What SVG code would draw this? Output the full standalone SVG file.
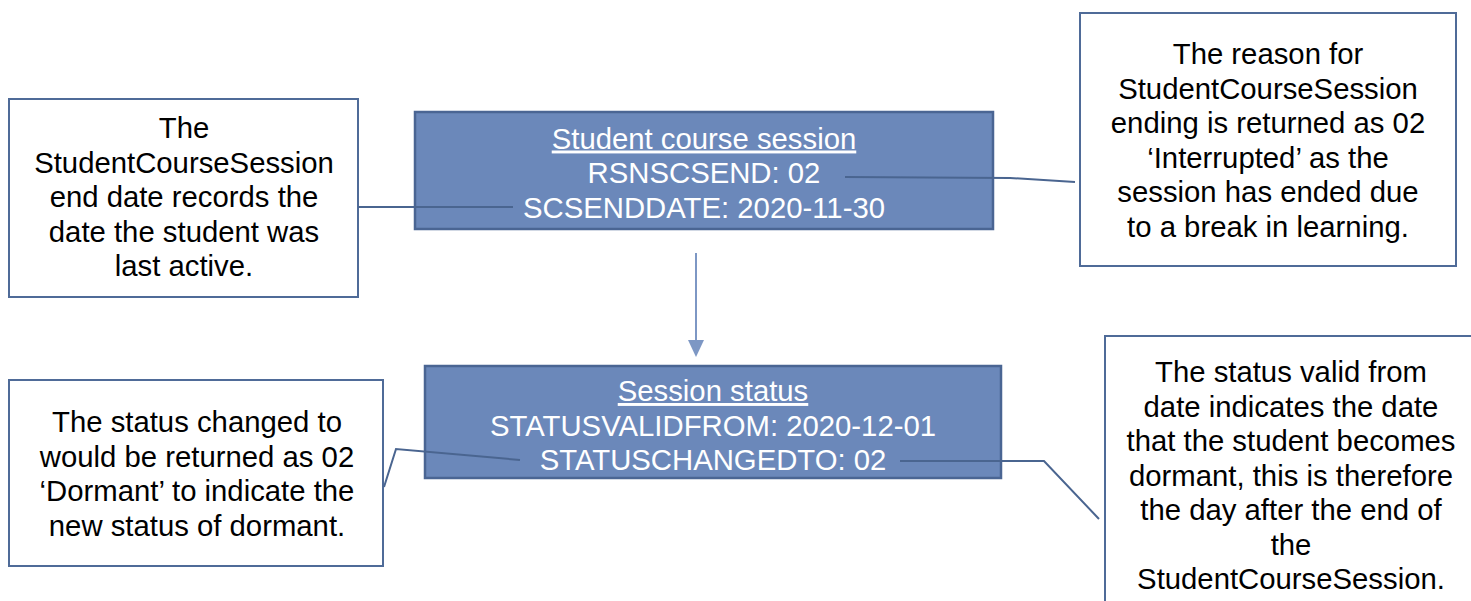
<svg xmlns="http://www.w3.org/2000/svg" width="1471" height="601" viewBox="0 0 1471 601">
<style>
.note{fill:#ffffff;stroke:#4F6B98;stroke-width:2}
.ent{fill:#6B88BA;stroke:#4A6593;stroke-width:2.5}
.t{font-family:"Liberation Sans",Arial,sans-serif;font-size:29.3px;text-anchor:middle;fill:#000000}
.w{font-family:"Liberation Sans",Arial,sans-serif;font-size:29.3px;text-anchor:middle;fill:#ffffff}
.c{fill:none;stroke:#4A6590;stroke-width:2}
</style>
<rect width="1471" height="601" fill="#ffffff"/>
<g id="note-enddate">
<rect class="note" x="9" y="99" width="349" height="198"/>
<text class="t" x="184" y="138">The</text>
<text class="t" x="184" y="172.5">StudentCourseSession</text>
<text class="t" x="184" y="207">end date records the</text>
<text class="t" x="184" y="241.5">date the student was</text>
<text class="t" x="184" y="276">last active.</text>
</g>
<g id="student-course-session">
<rect class="ent" x="415" y="112" width="578" height="117"/>
<text class="w" x="704" y="148.5" text-decoration="underline">Student course session</text>
<text class="w" x="704" y="183">RSNSCSEND: 02</text>
<text class="w" x="704" y="217.5">SCSENDDATE: 2020-11-30</text>
</g>
<g id="note-reason">
<rect class="note" x="1080" y="13" width="376" height="253"/>
<text class="t" x="1268" y="64">The reason for</text>
<text class="t" x="1268" y="98.5">StudentCourseSession</text>
<text class="t" x="1268" y="133">ending is returned as 02</text>
<text class="t" x="1268" y="167.5">‘Interrupted’ as the</text>
<text class="t" x="1268" y="202">session has ended due</text>
<text class="t" x="1268" y="236.5">to a break in learning.</text>
</g>
<g id="session-status">
<rect class="ent" x="425" y="366" width="576" height="112"/>
<text class="w" x="713" y="401" text-decoration="underline">Session status</text>
<text class="w" x="713" y="435.5">STATUSVALIDFROM: 2020-12-01</text>
<text class="w" x="713" y="470">STATUSCHANGEDTO: 02</text>
</g>
<g id="note-changedto">
<rect class="note" x="9" y="380" width="374" height="186"/>
<text class="t" x="197" y="432">The status changed to</text>
<text class="t" x="197" y="466.5">would be returned as 02</text>
<text class="t" x="197" y="501">‘Dormant’ to indicate the</text>
<text class="t" x="197" y="535.5">new status of dormant.</text>
</g>
<g id="note-validfrom">
<rect class="note" x="1105" y="336" width="380" height="290"/>
<text class="t" x="1291" y="382">The status valid from</text>
<text class="t" x="1291" y="416.5">date indicates the date</text>
<text class="t" x="1291" y="451">that the student becomes</text>
<text class="t" x="1291" y="485.5">dormant, this is therefore</text>
<text class="t" x="1291" y="520">the day after the end of</text>
<text class="t" x="1291" y="554.5">the</text>
<text class="t" x="1291" y="589">StudentCourseSession.</text>
</g>
<g id="connectors">
<polyline class="c" points="358,207 513,207"/>
<polyline class="c" points="845,177 1010,178 1075,182"/>
<polyline class="c" points="384,487 396,449 520,460"/>
<polyline class="c" points="900,461 1044,461 1099,519"/>
<line x1="696" y1="253" x2="696" y2="342" stroke="#7D97C4" stroke-width="2"/>
<polygon points="688,340 704,340 696,357" fill="#7D97C4"/>
</g>
</svg>
